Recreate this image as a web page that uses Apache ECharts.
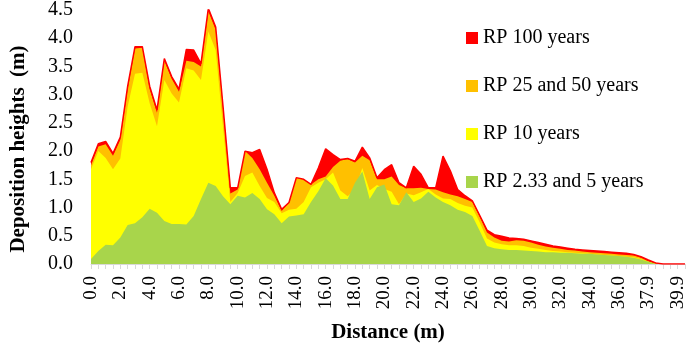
<!DOCTYPE html>
<html>
<head>
<meta charset="utf-8">
<script src="https://cdn.jsdelivr.net/npm/echarts@6/dist/echarts.min.js"></script>
<style>
  html, body { margin: 0; padding: 0; background: #fff; }
  #chart { width: 692px; height: 348px; }
</style>
</head>
<body>
<div id="chart"></div>
<script>
// distance along the profile (m)
var distance = ["0.0","0.5","1.0","1.5","2.0","2.5","3.0","3.5","4.0","4.5","5.0","5.5","6.0","6.5","7.0","7.5",
  "8.0","8.5","9.0","9.5","10.0","10.5","11.0","11.5","12.0","12.5","13.0","13.5","14.0","14.5","15.0","15.5",
  "16.0","16.5","17.0","17.5","18.0","18.5","19.0","19.5","20.0","20.5","21.0","21.5","22.0","22.5","23.0","23.5",
  "24.0","24.5","25.0","25.5","26.0","26.5","27.0","27.5","28.0","28.5","29.0","29.5","30.0","30.5","31.0","31.5",
  "32.0","32.5","33.0","33.5","34.0","34.5","35.0","35.5","36.0","36.5","37.0","37.4","37.9","38.4","38.9","39.4",
  "39.9","40.4"];

var rp100 = [1.80,2.13,2.17,1.96,2.25,3.15,3.85,3.85,3.15,2.73,3.64,3.32,3.10,3.80,3.79,3.55,
  4.53,4.20,2.80,1.35,1.35,2.00,1.97,2.03,1.68,1.26,0.97,1.09,1.53,1.50,1.41,1.70,
  2.04,1.94,1.85,1.87,1.82,2.07,1.88,1.53,1.67,1.76,1.44,1.35,1.73,1.59,1.35,1.35,
  1.91,1.65,1.32,1.21,1.12,0.86,0.60,0.52,0.49,0.46,0.45,0.44,0.41,0.38,0.35,0.32,
  0.30,0.28,0.26,0.25,0.24,0.23,0.22,0.21,0.20,0.19,0.17,0.13,0.07,0.02,0,0,
  0,0];

var rp25_50 = [1.75,2.08,2.12,1.92,2.20,3.10,3.82,3.83,3.10,2.68,3.60,3.28,3.05,3.60,3.58,3.50,
  4.48,4.15,2.75,1.25,1.32,2.00,1.88,1.68,1.44,1.21,0.94,1.09,1.53,1.50,1.41,1.50,
  1.55,1.72,1.83,1.86,1.80,1.92,1.84,1.50,1.50,1.55,1.40,1.34,1.34,1.35,1.33,1.32,
  1.27,1.23,1.20,1.15,1.10,0.84,0.56,0.47,0.41,0.40,0.42,0.41,0.38,0.34,0.31,0.29,
  0.27,0.25,0.24,0.22,0.21,0.20,0.19,0.18,0.17,0.16,0.15,0.11,0.05,0.01,0,0,
  0,0];

var rp10 = [1.68,2.00,1.88,1.68,1.87,2.79,3.37,3.39,2.85,2.44,3.26,3.02,2.86,3.47,3.43,3.26,
  4.12,3.79,2.43,1.10,1.26,1.56,1.62,1.38,1.17,1.10,0.90,0.96,0.98,1.10,1.36,1.44,
  1.50,1.62,1.30,1.20,1.32,1.70,1.30,1.40,1.33,1.28,1.06,1.25,1.22,1.27,1.33,1.23,
  1.16,1.15,1.08,1.03,1.00,0.74,0.45,0.38,0.35,0.33,0.33,0.32,0.29,0.27,0.25,0.23,
  0.22,0.21,0.20,0.19,0.18,0.17,0.16,0.15,0.14,0.13,0.12,0.09,0.04,0,0,0,
  0,0];

var rp2_5 = [0.09,0.23,0.34,0.33,0.47,0.69,0.72,0.83,0.98,0.91,0.76,0.71,0.71,0.70,0.85,1.15,
  1.44,1.38,1.20,1.06,1.21,1.18,1.26,1.15,0.97,0.88,0.72,0.84,0.86,0.88,1.10,1.29,
  1.52,1.39,1.15,1.15,1.44,1.64,1.15,1.36,1.41,1.06,1.04,1.27,1.10,1.16,1.28,1.18,
  1.10,1.04,0.96,0.92,0.85,0.59,0.32,0.28,0.26,0.25,0.25,0.24,0.23,0.22,0.21,0.21,
  0.20,0.20,0.19,0.18,0.18,0.17,0.16,0.15,0.14,0.13,0.11,0.08,0.04,0,0,0,
  0,0];

var names = ["RP 100 years", "RP 25 and 50 years", "RP 10 years", "RP 2.33 and 5 years"];
var colors = ["#FF0000", "#FFC000", "#FFFF00", "#A8D54B"];
var values = [rp100, rp25_50, rp10, rp2_5];

var font = "Liberation Serif";
var myChart = echarts.init(document.getElementById("chart"));

var series = [];
for (let i = 0; i < names.length; i++) {
  series.push({
    name: names[i],
    type: "line",
    data: values[i],
    symbol: "none",
    smooth: false,
    lineStyle: { width: i === 0 ? 1.5 : 0, color: colors[i] },
    areaStyle: { color: colors[i], opacity: 1 },
    itemStyle: { color: colors[i] },
    emphasis: { disabled: true }
  });
}

var option = {
  animation: false,
  backgroundColor: "#fff",
  legend: {
    data: names,
    orient: "vertical",
    left: 461,
    top: 23,
    itemWidth: 12,
    itemHeight: 12,
    itemGap: 28,
    icon: "rect",
    textStyle: { fontFamily: font, fontSize: 20, color: "#000" }
  },
  grid: { left: 86, right: 7, top: 10, bottom: 83 },
  xAxis: {
    type: "category",
    data: distance,
    boundaryGap: false,
    name: "Distance (m)",
    nameLocation: "middle",
    nameGap: 58,
    nameTextStyle: { fontFamily: font, fontSize: 21, fontWeight: "bold", color: "#000" },
    axisLine: { lineStyle: { color: "#D9D9D9" } },
    axisTick: { show: true, interval: 0, length: 5, lineStyle: { color: "#D9D9D9" } },
    axisLabel: { interval: 3, rotate: 90, margin: 12, fontFamily: font, fontSize: 19, color: "#000" },
    splitLine: { show: false }
  },
  yAxis: {
    type: "value",
    min: 0,
    max: 4.5,
    interval: 0.5,
    name: "Deposition heights  (m)",
    nameLocation: "middle",
    nameGap: 62,
    nameTextStyle: { fontFamily: font, fontSize: 21, fontWeight: "bold", color: "#000", padding: [0, 24, 0, 0] },
    axisLine: { show: false },
    axisTick: { show: false },
    splitLine: { show: false },
    axisLabel: {
      margin: 18,
      fontFamily: font,
      fontSize: 20,
      color: "#000",
      formatter: function (v) { return v.toFixed(1); }
    }
  },
  series: series
};

myChart.setOption(option, true);
</script>
</body>
</html>
